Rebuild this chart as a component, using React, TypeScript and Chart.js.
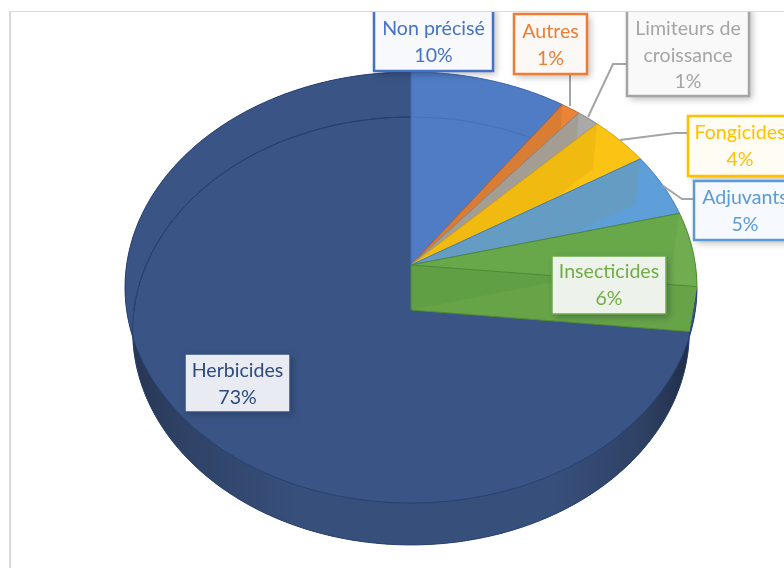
import React, { useEffect, useRef } from "react";
import { Chart, registerables } from "chart.js";

Chart.register(...registerables);

const categories = ["Non précisé", "Autres", "Limiteurs de croissance", "Fongicides", "Adjuvants", "Insecticides", "Herbicides"];
const shares = [9.8, 1.2, 1.4, 3.8, 4.8, 5.6, 73.4];
const sliceColors = ["#4F7CC4", "#EC8437", "#A9A9A9", "#FBC314", "#5E9FD9", "#70AD50", "#3A5585"];
const edgeColors = ["#3F68AE", "#B9652F", "#8A8A8A", "#D8A50C", "#3F7FBF", "#4E8A35", "#2A4070"];
const startWallColors = ["rgba(0,0,0,0)", "rgba(150,100,50,.22)", "rgba(150,130,100,.3)", "rgba(200,150,0,.2)", "rgba(120,150,150,.3)", "rgba(60,120,40,.12)", "rgba(0,0,0,0)"];
const textColors = ["#4472C4", "#ED7D31", "#A5A5A5", "#FFC000", "#5B9BD5", "#70AD47", "#2F4A80"];
const boxFills = ["#F7F9FC", "#FCF8F5", "#F9F9F9", "#FFFCF3", "#F6F9FD", "#EDF2EA", "#E8EBF1"];
const boxBorders = ["#4472C4", "#ED7D31", "#A5A5A5", "#FFC000", "#5B9BD5", "#6BA84A", "#34507F"];
const labelLines = [["Non précisé"], ["Autres"], ["Limiteurs de", "croissance"], ["Fongicides"], ["Adjuvants"], ["Insecticides"], ["Herbicides"]];
// x, y, w, h of each label box
const labelBoxes = [
  [374, 6, 119, 65],
  [514, 14, 73, 60],
  [627, 6, 122, 90],
  [688, 116, 120, 60],
  [694, 181, 120, 59],
  [552, 256, 114, 58],
  [185, 354, 105, 58],
];
const leaderLines = [
  [[570, 74], [570, 106]],
  [[626, 64], [613, 64], [588, 117]],
  [[687, 133], [675, 133], [620, 140]],
  [[694, 199], [682, 199], [662, 185]],
];

type Face = { ax: number; ay: number; r: number; q: number; c: number };
const topFace: Face = { ax: 411, ay: 265, r: 284.4, q: 185.5, c: -0.1044 };
const baseFace: Face = { ax: 411, ay: 310, r: 277, q: 181.5, c: -0.098 };

const project = (f: Face, t: number): [number, number] => {
  const u = Math.sin(t);
  const v = -Math.cos(t);
  const d = 1 + f.c * v;
  return [f.ax + (f.r * u) / d, (f.ay + f.q * v) / d];
};
const arcPts = (f: Face, t0: number, t1: number) => {
  const n = Math.max(2, Math.ceil(Math.abs(t1 - t0) / 0.01));
  const out: [number, number][] = [];
  for (let i = 0; i <= n; i++) out.push(project(f, t0 + ((t1 - t0) * i) / n));
  return out;
};
const poly = (ctx: CanvasRenderingContext2D, pts: [number, number][], close = true) => {
  ctx.beginPath();
  pts.forEach((p, i) => (i ? ctx.lineTo(p[0], p[1]) : ctx.moveTo(p[0], p[1])));
  if (close) ctx.closePath();
};
const sector = (f: Face, t0: number, t1: number): [number, number][] => [[f.ax, f.ay], ...arcPts(f, t0, t1)];
const rim = (t0: number, t1: number) => [...arcPts(topFace, t0, t1), ...arcPts(baseFace, t1, t0)];
const radialWall = (t: number): [number, number][] => [
  [topFace.ax, topFace.ay], project(topFace, t), project(baseFace, t), [baseFace.ax, baseFace.ay],
];

const pie3d = {
  id: "pie3d",
  beforeDatasetsDraw(chart: any) {
    const ctx: CanvasRenderingContext2D = chart.ctx;
    const arcs = chart.getDatasetMeta(0).data;
    const angle = (a: number) => a + Math.PI / 2;
    const order = [6, 0, 1, 2, 3, 4, 5];
    ctx.save();
    ctx.lineJoin = "round";
    order.forEach((i) => {
      const t0 = angle(arcs[i].startAngle);
      const t1 = angle(arcs[i].endAngle);
      const color = sliceColors[i];
      if (i === 6) {
        const g = ctx.createLinearGradient(125, 0, 697, 0);
        g.addColorStop(0, "#26344F");
        g.addColorStop(0.1, "#2F4266");
        g.addColorStop(0.3, "#374F7B");
        g.addColorStop(0.75, "#374F7B");
        g.addColorStop(0.9, "#2F4266");
        g.addColorStop(1, "#1F2B42");
        ctx.fillStyle = g;
        poly(ctx, sector(baseFace, t0, t1));
        ctx.fill();
        poly(ctx, rim(t0, t1));
        ctx.fill();
        ctx.fillStyle = color;
        poly(ctx, sector(topFace, t0, t1));
        ctx.fill();
        ctx.strokeStyle = "#264070";
        ctx.lineWidth = 1;
        poly(ctx, arcPts(baseFace, Math.PI * 1.5, t1 + 0.02), false);
        ctx.stroke();
        poly(ctx, arcPts(baseFace, t0, t1), false);
        ctx.stroke();
        poly(ctx, arcPts(topFace, t0, t1), false);
        ctx.stroke();
        return;
      }
      ctx.fillStyle = color;
      poly(ctx, rim(t0, t1));
      ctx.fill();
      poly(ctx, sector(baseFace, t0, t1));
      ctx.fill();
      if (i === 5) {
        poly(ctx, radialWall(t1));
        ctx.fill();
        ctx.fillStyle = "rgba(50,110,30,.14)";
        poly(ctx, radialWall(t1));
        ctx.fill();
      }
      ctx.fillStyle = color;
      poly(ctx, sector(topFace, t0, t1));
      ctx.fill();
      ctx.fillStyle = startWallColors[i];
      poly(ctx, radialWall(t0));
      ctx.fill();
      ctx.strokeStyle = edgeColors[i];
      ctx.lineWidth = 1;
      poly(ctx, [project(topFace, t0), [topFace.ax, topFace.ay], project(topFace, t1)], false);
      ctx.stroke();
      poly(ctx, arcPts(topFace, t0, t1), false);
      ctx.stroke();
      if (i === 5) {
        poly(ctx, [project(baseFace, t1), [baseFace.ax, baseFace.ay], [topFace.ax, topFace.ay]], false);
        ctx.stroke();
      } else if (i === 0) {
        ctx.strokeStyle = "#4470B8";
        poly(ctx, arcPts(baseFace, t0, t1 - 0.05), false);
        ctx.stroke();
      }
    });
    ctx.restore();
    return false;
  },
  afterDraw(chart: any) {
    const ctx: CanvasRenderingContext2D = chart.ctx;
    const values: number[] = chart.data.datasets[0].data;
    const total = values.reduce((a, b) => a + b, 0);
    ctx.save();
    ctx.beginPath();
    ctx.rect(0, 12, 784, 556);
    ctx.clip();
    ctx.strokeStyle = "#A5A5A5";
    ctx.lineWidth = 2;
    leaderLines.forEach((line) => {
      poly(ctx, line as [number, number][], false);
      ctx.stroke();
    });
    labelBoxes.forEach((b, i) => {
      const [x, y, w, h] = b;
      ctx.save();
      ctx.shadowColor = i === 5 || i === 6 ? "rgba(20,30,50,.35)" : "rgba(0,0,0,.28)";
      ctx.shadowBlur = 7;
      ctx.shadowOffsetX = 3;
      ctx.shadowOffsetY = 3;
      ctx.fillStyle = boxFills[i];
      ctx.fillRect(x, y, w, h);
      ctx.restore();
      ctx.strokeStyle = boxBorders[i];
      ctx.lineWidth = i >= 5 ? 1.5 : 2.5;
      ctx.strokeRect(x, y, w, h);
      const lines = [...labelLines[i], `${Math.round((values[i] / total) * 100)}%`];
      ctx.fillStyle = textColors[i];
      ctx.font = "19.6px Lato";
      ctx.textAlign = "center";
      ctx.textBaseline = "middle";
      const cx = i === 3 ? 740 : i === 4 ? 745 : x + w / 2;
      const startY = [29, 32, 29, 133, 198, 272, 371][i];
      lines.forEach((s, k) => ctx.fillText(s, cx, startY + k * 26.3));
    });
    ctx.restore();
  },
};

export default function App() {
  const ref = useRef<HTMLCanvasElement>(null);
  useEffect(() => {
    const chart = new Chart(ref.current!, {
      type: "pie",
      data: { labels: categories, datasets: [{ data: shares, backgroundColor: sliceColors }] },
      options: {
        animation: false,
        responsive: false,
        devicePixelRatio: 1,
        plugins: { legend: { display: false }, tooltip: { enabled: false } },
      },
      plugins: [pie3d],
    } as any);
    return () => chart.destroy();
  }, []);
  return (
    <div style={{ position: "absolute", left: 0, top: 0, width: 784, height: 568, overflow: "hidden", background: "#fff" }}>
      <div style={{ position: "absolute", left: 9, top: 11, width: 800, height: 600, borderLeft: "2px solid #D9D9D9", borderTop: "1.5px solid #D9D9D9" }} />
      <canvas ref={ref} width={784} height={568} style={{ position: "absolute", left: 0, top: 0, display: "block" }} />
    </div>
  );
}
